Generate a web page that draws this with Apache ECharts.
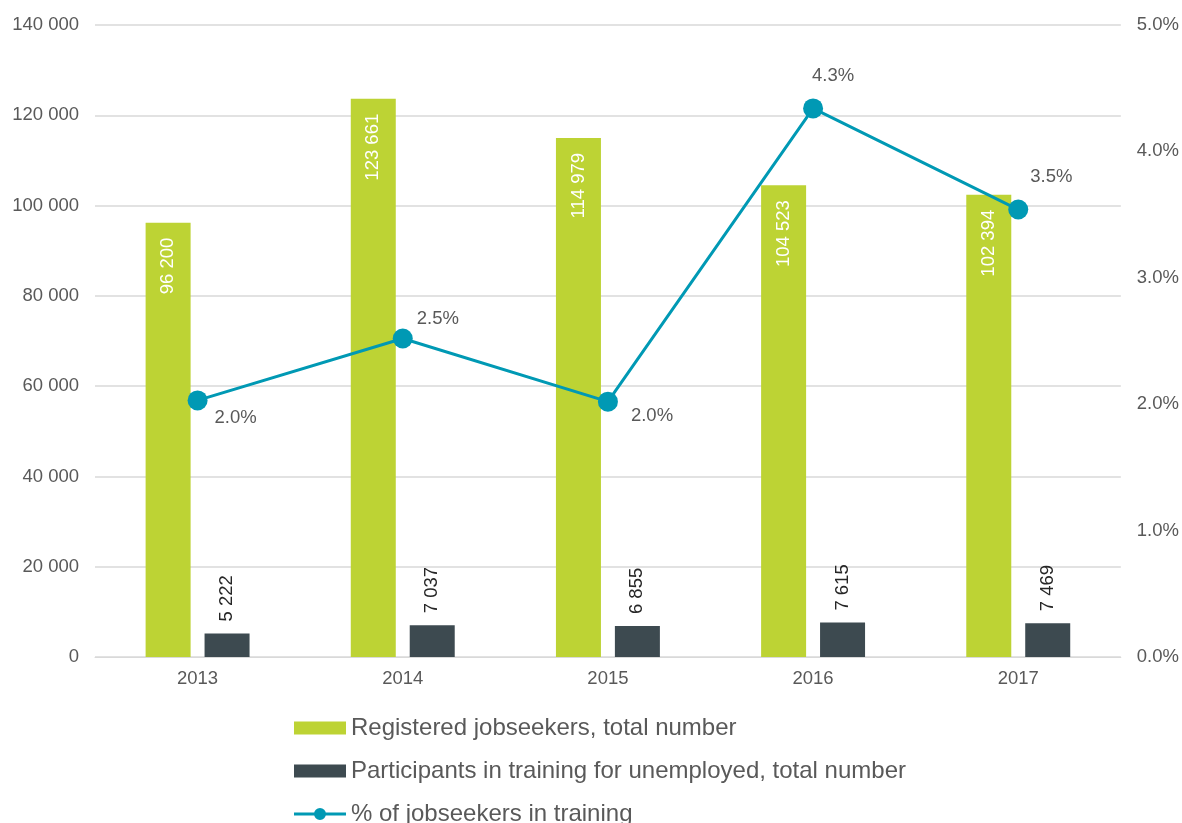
<!DOCTYPE html>
<html>
<head>
<meta charset="utf-8">
<script src="https://cdn.jsdelivr.net/npm/echarts@6/dist/echarts.min.js"></script>
<style>
html,body{margin:0;padding:0;background:#fff;}
#chart{width:1182px;height:823px;}
</style>
</head>
<body>
<div id="chart"></div>
<script>
const years = ['2013', '2014', '2015', '2016', '2017'];
const registered = [96200, 123661, 114979, 104523, 102394];
const participants = [5222, 7037, 6855, 7615, 7469];
const sharePct = [2.03, 2.52, 2.02, 4.34, 3.54];
const leftTicks = [0, 20000, 40000, 60000, 80000, 100000, 120000, 140000];
const rightTicks = [0, 1, 2, 3, 4, 5];

const fmtThousands = v => String(v).replace(/\B(?=(\d{3})+(?!\d))/g, ' ');
const txt = '#595959';
const font = 'Liberation Sans, Arial, sans-serif';
const fs = 18.5;

// Legend glyph for the line series: 3px stroke with a dot in the middle (52x13 box)
const lineDotIcon = 'path://M0,5 L52,5 L52,8 L0,8 Z M20,6.5 A6,6 0 1,1 32,6.5 A6,6 0 1,1 20,6.5 Z M0,0 L0.01,0 L0.01,0.01 Z M52,13 L51.99,13 L51.99,12.99 Z';

// Per-point placement of the percentage labels
const pctLabelPos = [
  { position: 'right', offset: [2, 17] },
  { position: 'right', offset: [-1, -20] },
  { position: 'right', offset: [8, 14] },
  { position: 'top', offset: [20, -8] },
  { position: 'right', offset: [-3, -33] }
];

const chart = echarts.init(document.getElementById('chart'));
chart.setOption({
  animation: false,
  textStyle: { fontFamily: font },
  grid: { left: 95, right: 60, top: 25, bottom: 166 },
  legend: {
    orient: 'vertical',
    left: 289,
    top: 711,
    height: 140,
    itemWidth: 52,
    itemHeight: 13,
    itemGap: 19,
    textStyle: { fontSize: 24, color: txt, fontFamily: font, lineHeight: 24 },
    data: [
      { name: 'Registered jobseekers, total number', icon: 'rect' },
      { name: 'Participants in training for unemployed, total number', icon: 'rect' },
      { name: '% of jobseekers in training', icon: lineDotIcon, itemStyle: { color: '#0099b4' } }
    ]
  },
  xAxis: {
    type: 'category',
    data: years,
    axisLine: { lineStyle: { color: '#d9d9d9', width: 1 } },
    axisTick: { show: false },
    axisLabel: { color: txt, fontSize: fs, margin: 12 }
  },
  yAxis: [
    {
      type: 'value',
      min: leftTicks[0],
      max: leftTicks[leftTicks.length - 1],
      interval: 20000,
      axisLine: { show: false },
      axisTick: { show: false },
      splitLine: { lineStyle: { color: '#d9d9d9', width: 1.5 } },
      axisLabel: { color: txt, fontSize: fs, margin: 16, formatter: v => fmtThousands(v) }
    },
    {
      type: 'value',
      min: rightTicks[0],
      max: rightTicks[rightTicks.length - 1],
      interval: 1,
      axisLine: { show: false },
      axisTick: { show: false },
      splitLine: { show: false },
      axisLabel: { color: txt, fontSize: fs, margin: 16, formatter: v => v.toFixed(1) + '%' }
    }
  ],
  series: [
    {
      name: 'Registered jobseekers, total number',
      type: 'bar',
      data: registered,
      barWidth: 45,
      barGap: '31%',
      itemStyle: { color: '#bdd334' },
      label: {
        show: true,
        position: 'insideTop',
        distance: 15,
        rotate: 90,
        align: 'right',
        verticalAlign: 'middle',
        color: '#ffffff',
        fontSize: fs,
        formatter: p => fmtThousands(p.value)
      }
    },
    {
      name: 'Participants in training for unemployed, total number',
      type: 'bar',
      data: participants,
      barWidth: 45,
      itemStyle: { color: '#3d4a50' },
      label: {
        show: true,
        position: 'top',
        distance: 12,
        rotate: 90,
        align: 'left',
        verticalAlign: 'middle',
        color: '#262626',
        fontSize: fs,
        formatter: p => fmtThousands(p.value)
      }
    },
    {
      name: '% of jobseekers in training',
      type: 'line',
      yAxisIndex: 1,
      data: sharePct.map((v, i) => ({
        value: v,
        label: Object.assign({}, pctLabelPos[i])
      })),
      symbol: 'circle',
      symbolSize: 20,
      lineStyle: { color: '#0099b4', width: 3 },
      itemStyle: { color: '#0099b4' },
      label: {
        show: true,
        color: txt,
        fontSize: fs,
        formatter: p => p.value.toFixed(1) + '%'
      },
      z: 5
    }
  ]
});
</script>
</body>
</html>
